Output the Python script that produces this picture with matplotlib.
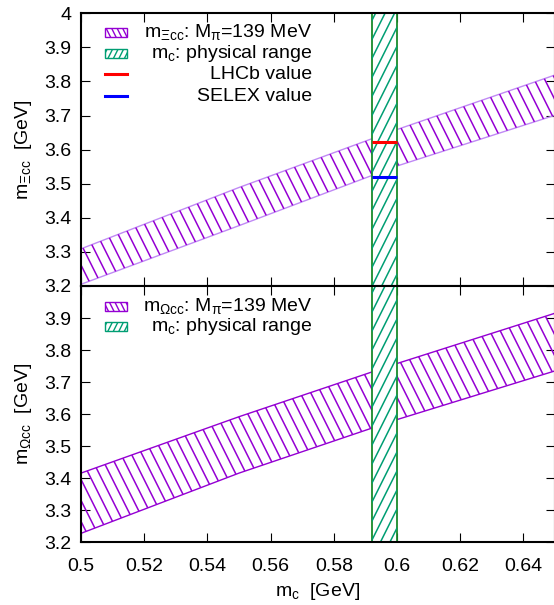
import numpy as np
import matplotlib
matplotlib.use("Agg")
import matplotlib.pyplot as plt
import matplotlib.patches as mpatches
from matplotlib.collections import LineCollection

plt.rcParams['font.family'] = ['Liberation Sans', 'DejaVu Sans']
plt.rcParams['mathtext.fontset'] = 'custom'
plt.rcParams['mathtext.rm'] = 'Liberation Sans'
plt.rcParams['mathtext.it'] = 'Liberation Sans:italic'
plt.rcParams['mathtext.default'] = 'regular'

# charm quark mass grid [GeV]
mc = [0.50, 0.55, 0.60, 0.65]
# Xi_cc band (lower / upper) [GeV]
xi_lo = [3.205, 3.377, 3.552, 3.701]
xi_hi = [3.309, 3.489, 3.659, 3.819]
# Omega_cc band (lower / upper) [GeV]
om_lo = [3.228, 3.416, 3.583, 3.735]
om_hi = [3.416, 3.592, 3.758, 3.915]
# physical m_c range and experimental values
mc_phys = [0.592, 0.600]
lhcb = 3.621
selex = 3.519

xticks = [0.5, 0.52, 0.54, 0.56, 0.58, 0.6, 0.62, 0.64]
yticks = [3.2, 3.3, 3.4, 3.5, 3.6, 3.7, 3.8, 3.9, 4.0]

PURPLE = '#9400d3'
LIGHTPURPLE = '#c08af5'
GREEN = '#009e73'
DKGREEN = '#1a8a2a'

fig = plt.figure(figsize=(5.54, 6.05), dpi=100)
ax1 = fig.add_axes([0.1462, 0.5273, 0.8556, 0.4507])
ax2 = fig.add_axes([0.1462, 0.1036, 0.8556, 0.4237])


def hatch_lines(ax, clip, trans, step, slope, color, lw, down=True, z=3):
    # steep hatch lines (gnuplot style) clipped to a shape
    w, h = ax.bbox.width, ax.bbox.height
    run = h / slope
    segs = []
    for x0 in np.arange(-run - step, w + step, step):
        if down:
            segs.append([(x0 / w, 1.0), ((x0 + run) / w, 0.0)])
        else:
            segs.append([(x0 / w, 0.0), ((x0 + run) / w, 1.0)])
    lc = LineCollection(segs, colors=color, linewidths=lw, transform=ax.transAxes,
                        zorder=z)
    lc.set_clip_path(clip, trans)
    ax.add_collection(lc, autolim=False)


def draw_panel(ax, lo, hi, edge):
    band = ax.fill_between(mc, lo, hi, facecolor='none', edgecolor=edge,
                           linewidth=1.0, zorder=2)
    hatch_lines(ax, band.get_paths()[0], band.get_transform(), 10.5, 2.0,
                PURPLE, 1.1, down=True, z=3)
    rect = ax.axvspan(mc_phys[0], mc_phys[1], facecolor='white',
                      edgecolor=DKGREEN, linewidth=1.3, zorder=4)
    hatch_lines(ax, rect.get_path(), rect.get_transform(), 9.5, 2.0,
                GREEN, 1.1, down=False, z=4.5)
    ax.set_xlim(0.5, 0.65)
    ax.set_ylim(3.2, 4.0)
    ax.set_xticks(xticks)
    ax.set_yticks(yticks)
    ax.tick_params(direction='in', length=6.5, width=0.8, top=True, right=True,
                   labelsize=14, pad=7)
    ax.tick_params(axis='x', pad=11.5)
    for s in ax.spines.values():
        s.set_linewidth(1.5)
        s.set_zorder(6)


def key(ax, entries, base0, step):
    # gnuplot-like key: sample on the left, text right-justified
    w, h = ax.bbox.width, ax.bbox.height
    x0, x1, xr = 24 / w, 46 / w, 231 / w
    for i, (kind, color, label) in enumerate(entries):
        yb = 1 - (base0 + i * step) / h
        if kind == 'line':
            ym = yb + 5 / h
            ax.plot([x0, x1], [ym, ym], color=color, lw=2.2,
                    transform=ax.transAxes, zorder=7, clip_on=False)
        else:
            box = mpatches.Rectangle((x0, yb), x1 - x0, 9 / h, facecolor='white',
                                     edgecolor=color, lw=1.0,
                                     transform=ax.transAxes, zorder=7)
            ax.add_patch(box)
            hatch_lines(ax, box.get_path(), box.get_transform(), 5.5, 2.0,
                        color, 1.0, down=(kind == 'back'), z=7.5)
        ax.text(xr, yb, label, transform=ax.transAxes, ha='right',
                va='baseline', fontsize=14, zorder=8)


draw_panel(ax1, xi_lo, xi_hi, LIGHTPURPLE)
draw_panel(ax2, om_lo, om_hi, PURPLE)

ax1.hlines(lhcb, mc_phys[0], mc_phys[1], color='#ff0000', linewidth=2.2, zorder=6)
ax1.hlines(selex, mc_phys[0], mc_phys[1], color='#0000ff', linewidth=2.2, zorder=6)

ax1.set_xticklabels([])
ax1.set_yticklabels(['%g' % v for v in yticks])
ax2.set_xticklabels(['%g' % v for v in xticks])
ax2.set_yticklabels(['%g' % v for v in yticks[:-1]] + [''])

ax1.set_ylabel(r'$m_{\Xi cc}$  [GeV]', fontsize=14)
ax2.set_ylabel(r'$m_{\Omega cc}$  [GeV]', fontsize=14)
ax2.set_xlabel(r'$m_{c}$  [GeV]', fontsize=14, labelpad=4)
ax1.yaxis.set_label_coords(-0.10, 0.5)
ax2.yaxis.set_label_coords(-0.10, 0.5)

key(ax1, [('back', PURPLE, r'$m_{\Xi cc}$: $M_{\pi}$=139 MeV'),
          ('fwd', GREEN, r'$m_{c}$: physical range'),
          ('line', '#ff0000', 'LHCb value'),
          ('line', '#0000ff', 'SELEX value')], 23.4, 21.3)
key(ax2, [('back', PURPLE, r'$m_{\Omega cc}$: $M_{\pi}$=139 MeV'),
          ('fwd', GREEN, r'$m_{c}$: physical range')], 24.7, 20.0)

fig.savefig('out.png', dpi=100)
